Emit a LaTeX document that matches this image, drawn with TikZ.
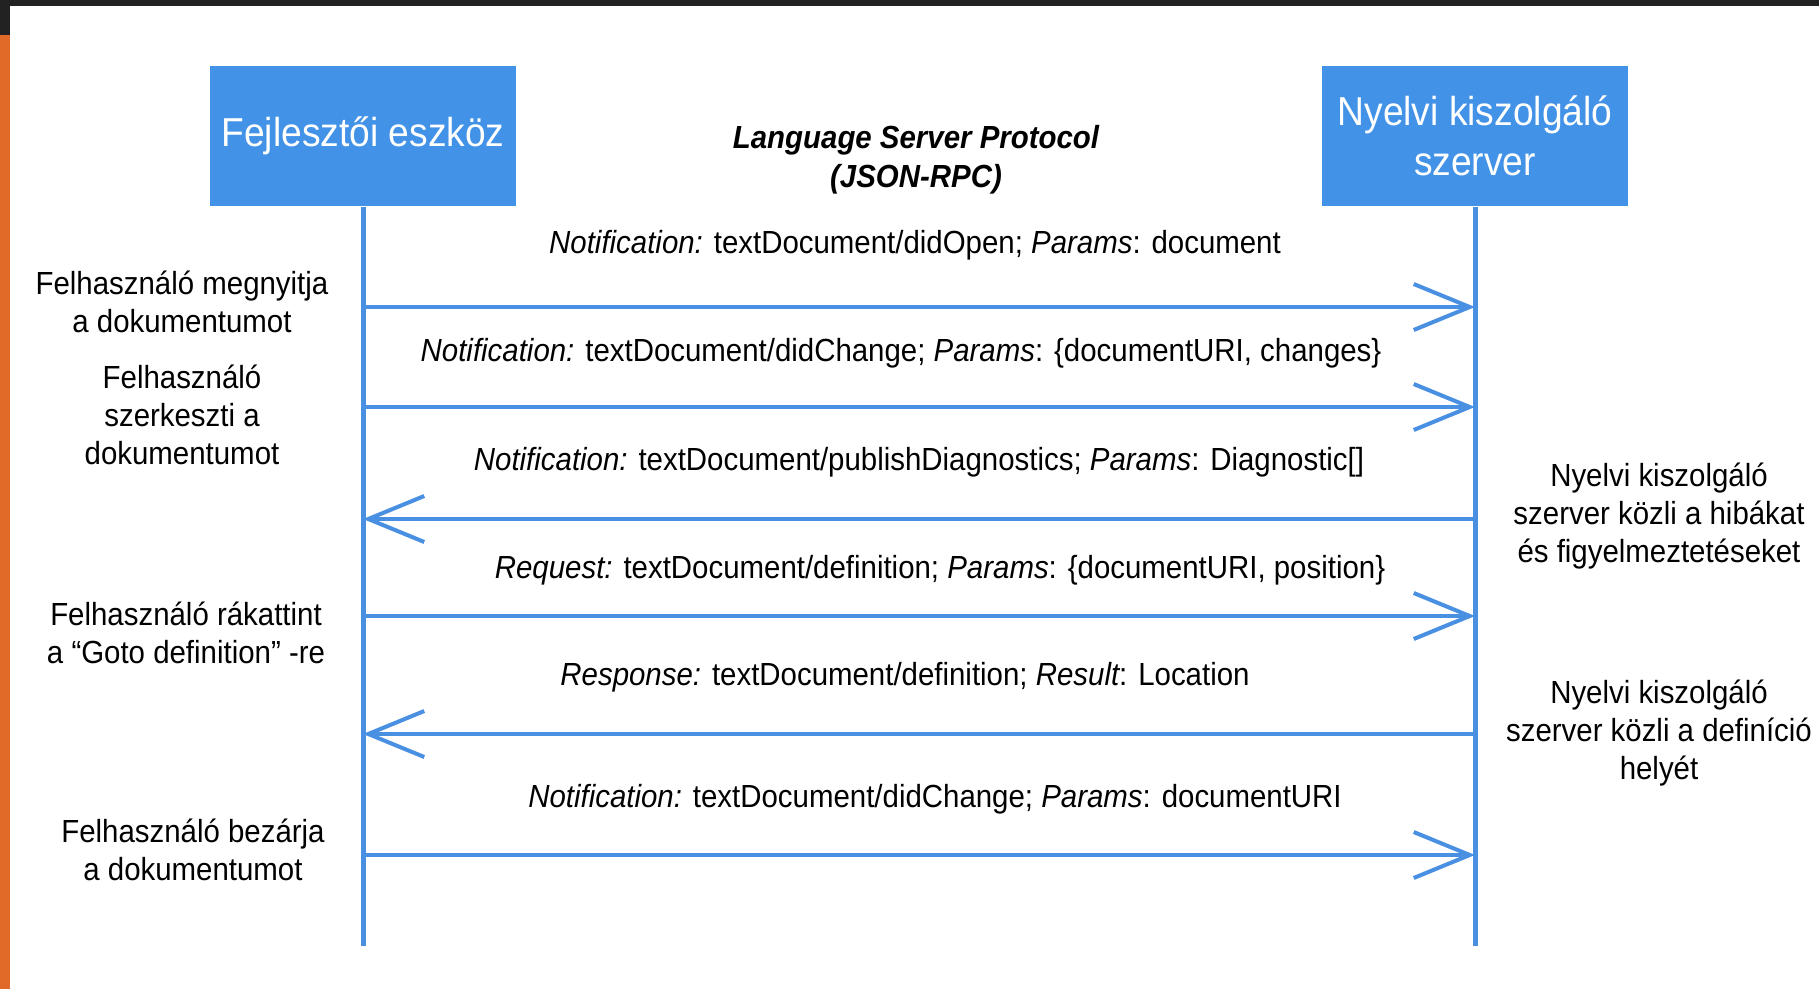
\documentclass[tikz,border=0pt]{standalone}
\usepackage{fontspec}
\setmainfont{Liberation Sans}[FakeStretch=0.92]
\usetikzlibrary{arrows.meta}
\definecolor{boxblue}{RGB}{66,146,232}
\definecolor{lineblue}{RGB}{74,144,226}
\definecolor{framedark}{RGB}{34,34,34}
\definecolor{frameorange}{RGB}{226,106,40}

\begin{document}
\begin{tikzpicture}[x=0.1mm, y=-0.1mm,
    actor/.style = {fill=boxblue, text=white, minimum width=30.6mm, minimum height=14mm, align=center, font=\fontsize{11.5}{14.2}\selectfont},
    msg/.style = {font=\fontsize{9.1}{10.9}\selectfont},
    note/.style = {align=center, font=\fontsize{9.1}{10.9}\selectfont},
    life/.style = {draw=lineblue, line width=0.5mm},
    call/.style = {draw=lineblue, line width=0.4mm, -{Straight Barb[length=5.6mm, width=4.6mm]}}]
      \useasboundingbox (0,0) rectangle (1819,989);
      \fill[white] (0,0) rectangle (1819,989);
      \fill[framedark] (0,0) rectangle (1819,6);
      \fill[framedark] (0,0) rectangle (10,35);
      \fill[frameorange] (0,35) rectangle (10,989);

      \node[actor] (dev) at (363,136) {\raisebox{-0.5mm}{Fejlesztői eszköz}};
      \node[actor] (srv) at (1475,136) {Nyelvi kiszolgáló\\szerver};
      \node[note, font=\fontsize{9.1}{11}\selectfont\bfseries\itshape] (lsp) at (916,160) {Language Server Protocol\\(JSON-RPC)};

      \coordinate (devend) at (363,946);
      \coordinate (srvend) at (1475,946);
      \draw[life] (dev) -- (devend);
      \draw[life] (srv) -- (srvend);

      % message rows
      \foreach \n/\y in {1/307, 2/407, 3/519, 4/616, 5/734, 6/855} {
        \coordinate (d\n) at (363,\y);
        \coordinate (s\n) at (1475,\y);
      }

      \draw[call] (d1) -- (s1);
      \draw[call] (d2) -- (s2);
      \draw[call] (s3) -- (d3);
      \draw[call] (d4) -- (s4);
      \draw[call] (s5) -- (d5);
      \draw[call] (d6) -- (s6);

      \node[msg] (m1) at (915,245) {{\itshape Notification:} textDocument/didOpen; {\itshape Params}: document};
      \node[msg] (m2) at (901,353) {{\itshape Notification:} textDocument/didChange; {\itshape Params}: \{documentURI, changes\}};
      \node[msg] (m3) at (919,462) {{\itshape Notification:} textDocument/publishDiagnostics; {\itshape Params}: Diagnostic[]};
      \node[msg] (m4) at (940,570) {{\itshape Request:} textDocument/definition; {\itshape Params}: \{documentURI, position\}};
      \node[msg] (m5) at (905,677) {{\itshape Response:} textDocument/definition; {\itshape Result}: Location};
      \node[msg] (m6) at (935,799) {{\itshape Notification:} textDocument/didChange; {\itshape Params}: documentURI};

      % what happens on each side
      \node[note] (u1) at (182,302) {Felhasználó megnyitja\\a dokumentumot};
      \node[note] (u2) at (182,415) {Felhasználó\\szerkeszti a\\dokumentumot};
      \node[note] (u3) at (186,633) {Felhasználó rákattint\\a “Goto definition” -re};
      \node[note] (u4) at (193,850) {Felhasználó bezárja\\a dokumentumot};
      \node[note] (r1) at (1659,516) {Nyelvi kiszolgáló\\szerver közli a hibákat\\és figyelmeztetéseket};
      \node[note] (r2) at (1659,733) {Nyelvi kiszolgáló\\szerver közli a definíció\\helyét};
\end{tikzpicture}
\end{document}
